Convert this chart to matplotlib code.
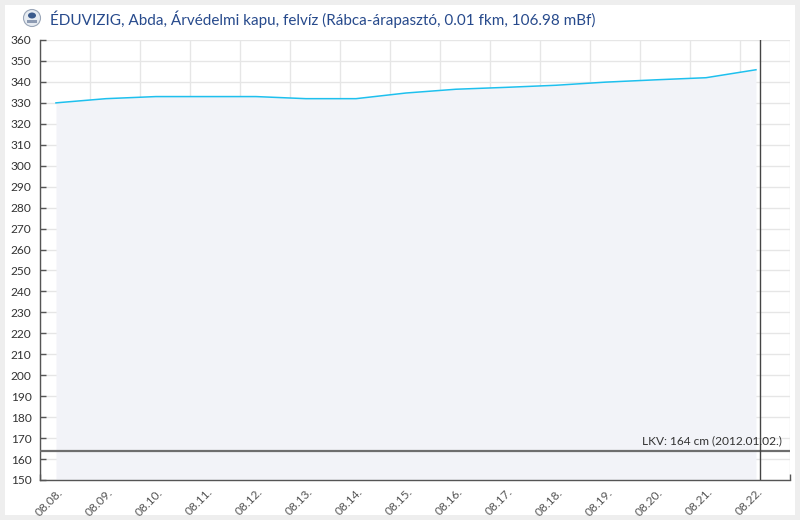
import numpy as np
import pandas as pd
import matplotlib
matplotlib.use("Agg")
import matplotlib.pyplot as plt
from matplotlib.patches import Rectangle, Ellipse
from matplotlib.transforms import ScaledTranslation

# data
reading_times = ["2024-08-08 07:40", "2024-08-09 07:40", "2024-08-10 07:40",
                 "2024-08-11 07:40", "2024-08-12 07:40", "2024-08-13 07:40",
                 "2024-08-14 07:40", "2024-08-15 07:40", "2024-08-16 07:40",
                 "2024-08-17 07:40", "2024-08-18 07:40", "2024-08-19 07:40",
                 "2024-08-20 07:40", "2024-08-21 07:40", "2024-08-22 07:40"]
water_level = [330, 332, 333, 333, 333, 332, 332, 334.7, 336.5, 337.4,
               338.4, 339.9, 341, 342, 345.8]
tick_days = ["2024-08-08", "2024-08-09", "2024-08-10", "2024-08-11",
             "2024-08-12", "2024-08-13", "2024-08-14", "2024-08-15",
             "2024-08-16", "2024-08-17", "2024-08-18", "2024-08-19",
             "2024-08-20", "2024-08-21", "2024-08-22", "2024-08-23"]
tick_labels = ["08.08.", "08.09.", "08.10.", "08.11.", "08.12.", "08.13.",
               "08.14.", "08.15.", "08.16.", "08.17.", "08.18.", "08.19.",
               "08.20.", "08.21.", "08.22.", ""]
now_time = "2024-08-22 09:35"
lkv_value = 164
lkv_label = "LKV: 164 cm (2012.01.02.)"
title = "ÉDUVIZIG, Abda, Árvédelmi kapu, felvíz (Rábca-árapasztó, 0.01 fkm, 106.98 mBf)"

plt.rcParams['font.family'] = ['Lato', 'DejaVu Sans']

W, H = 800, 520
fig = plt.figure(figsize=(W / 100, H / 100), dpi=100, facecolor="#eeeeee")

# white card
fig.add_artist(Rectangle((5 / W, 5 / H), 790 / W, 510 / H, transform=fig.transFigure,
                         facecolor="white", edgecolor="none", zorder=-1))

ax = fig.add_axes([40 / W, 40 / H, 750 / W, 440 / H])
ax.set_facecolor("none")

t = pd.to_datetime(reading_times)
ticks = pd.to_datetime(tick_days)

ax.fill_between(t, water_level, 150, color="#f2f3f8", lw=0, zorder=1)
ax.plot(t, water_level, color="#1ec0ee", lw=1.1, zorder=3)
ax.axhline(lkv_value, color="#6e6e6e", lw=1.6, zorder=4)
ax.axvline(pd.Timestamp(now_time), color="#444444", lw=1, zorder=4)
ax.text(ticks[-1] - pd.Timedelta(hours=3.8), lkv_value + 2, lkv_label,
        fontsize=8.6, color="#333333", ha="right", va="bottom", zorder=5)

ax.set_xlim(ticks[0], ticks[-1])
ax.set_ylim(150, 360)
ax.set_yticks(np.arange(150, 361, 10))
ax.set_xticks(ticks)
ax.set_xticklabels([])

# rotated date labels, right end sitting down-right of each tick
offset = ScaledTranslation(0.21, -0.105, fig.dpi_scale_trans)
for d, lab in zip(ticks, tick_labels):
    ax.text(d, 0, lab, transform=ax.get_xaxis_transform() + offset,
            rotation=45, rotation_mode="anchor", ha="right", va="center",
            fontsize=8.6, color="#555555", clip_on=False)

ax.tick_params(axis="y", labelsize=8.6, labelcolor="#333333", direction="in",
               length=4, width=1, color="#555555", pad=6)
ax.tick_params(axis="x", direction="in", length=4, width=1, color="#555555")

ax.grid(True, color="#e6e6e6", lw=1, zorder=0)
ax.set_axisbelow(True)
for s in ["top", "right"]:
    ax.spines[s].set_visible(False)
for s in ["left", "bottom"]:
    ax.spines[s].set_color("#555555")
    ax.spines[s].set_linewidth(1)

# title and emblem
fig.add_artist(Ellipse((32 / W, 1 - 18 / H), 17 / W, 17 / H, transform=fig.transFigure,
                       facecolor="#e6ebf1", edgecolor="#9aa6b8", lw=0.8))
fig.add_artist(Ellipse((32 / W, 1 - 15.5 / H), 8 / W, 6 / H, transform=fig.transFigure,
                       facecolor="#3a5a8c", edgecolor="none"))
fig.add_artist(Rectangle((27 / W, 1 - 23 / H), 10 / W, 3 / H, transform=fig.transFigure,
                         facecolor="#8d9bb3", edgecolor="none"))
fig.text(50 / W, 1 - 19 / H, title, fontsize=11, color="#274a8c", ha="left", va="center")

fig.savefig("out.png", dpi=100, facecolor=fig.get_facecolor())
